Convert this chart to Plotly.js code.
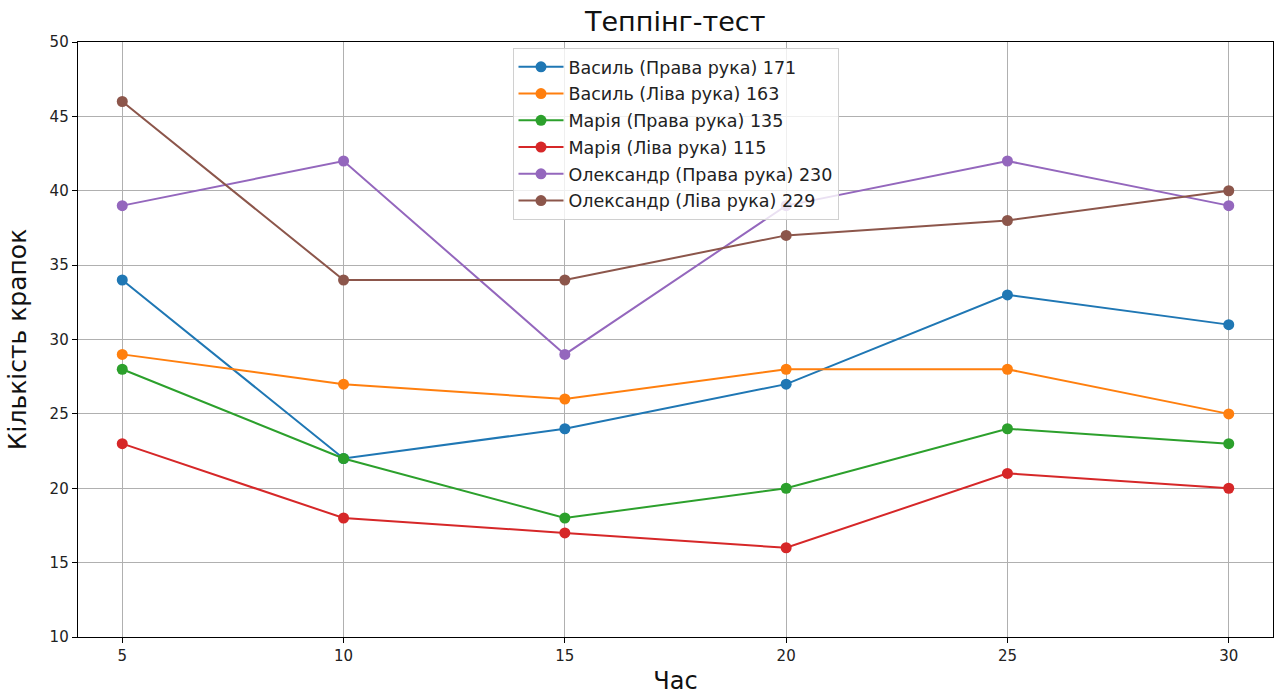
<!DOCTYPE html>
<html>
<head>
<meta charset="utf-8">
<script src="https://cdn.plot.ly/plotly-3.0.1.min.js"></script>
<style>html,body{margin:0;padding:0;background:#fff;}#chart{width:1274px;height:695px;}</style>
</head>
<body>
<div id="chart"></div>
<script>
const times = [5, 10, 15, 20, 25, 30];
const seriesNames = [
  "Василь (Права рука) 171",
  "Василь (Ліва рука) 163",
  "Марія (Права рука) 135",
  "Марія (Ліва рука) 115",
  "Олександр (Права рука) 230",
  "Олександр (Ліва рука) 229"
];
const vasylRight = [34, 22, 24, 27, 33, 31];
const vasylLeft = [29, 27, 26, 28, 28, 25];
const mariaRight = [28, 22, 18, 20, 24, 23];
const mariaLeft = [23, 18, 17, 16, 21, 20];
const oleksRight = [39, 42, 29, 39, 42, 39];
const oleksLeft = [46, 34, 34, 37, 38, 40];
const xTicks = [5, 10, 15, 20, 25, 30];
const yTicks = [10, 15, 20, 25, 30, 35, 40, 45, 50];

const colors = ["#1f77b4", "#ff7f0e", "#2ca02c", "#d62728", "#9467bd", "#8c564b"];
const allValues = [vasylRight, vasylLeft, mariaRight, mariaLeft, oleksRight, oleksLeft];

const font = "DejaVu Sans, sans-serif";
const traces = allValues.map((vals, i) => ({
  x: times,
  y: vals,
  name: seriesNames[i],
  type: "scatter",
  mode: "lines+markers",
  line: {color: colors[i], width: 2},
  marker: {color: colors[i], size: 11},
  legendgroup: "g" + i
}));

const layout = {
  width: 1274,
  height: 695,
  margin: {l: 78, r: 1, t: 42, b: 58},
  paper_bgcolor: "#fff",
  plot_bgcolor: "#fff",
  title: {text: "Теппінг-тест", font: {family: font, size: 27, color: "#111"}, x: 0.53, xanchor: "center", y: 0.969, yanchor: "middle"},
  xaxis: {
    range: [4, 31],
    tickvals: xTicks,
    ticktext: xTicks.map(String),
    showgrid: true, gridcolor: "#b0b0b0", gridwidth: 1,
    showline: true, linecolor: "#000", linewidth: 1.3, mirror: true,
    ticks: "outside", ticklen: 5, tickcolor: "#000",
    tickfont: {family: font, size: 15, color: "#222"},
    zeroline: false,
    title: {text: "Час", font: {family: font, size: 24, color: "#111"}, standoff: 8}
  },
  yaxis: {
    range: [10, 50],
    tickvals: yTicks,
    ticktext: yTicks.map(String),
    showgrid: true, gridcolor: "#b0b0b0", gridwidth: 1,
    showline: true, linecolor: "#000", linewidth: 1.3, mirror: true,
    ticks: "outside", ticklen: 5, tickcolor: "#000",
    tickfont: {family: font, size: 15, color: "#222"},
    zeroline: false,
    title: {text: "Кількість крапок", font: {family: font, size: 25, color: "#111"}, standoff: 16}
  },
  showlegend: true,
  legend: {
    x: 0.5, xanchor: "center", y: 0.99, yanchor: "top",
    bgcolor: "rgba(255,255,255,0.8)",
    bordercolor: "#d0d0d0", borderwidth: 1,
    font: {family: font, size: 17.5, color: "#222"},
    tracegroupgap: 1,
    itemwidth: 45
  }
};

Plotly.newPlot("chart", traces, layout, {displayModeBar: false, staticPlot: true});
</script>
</body>
</html>
